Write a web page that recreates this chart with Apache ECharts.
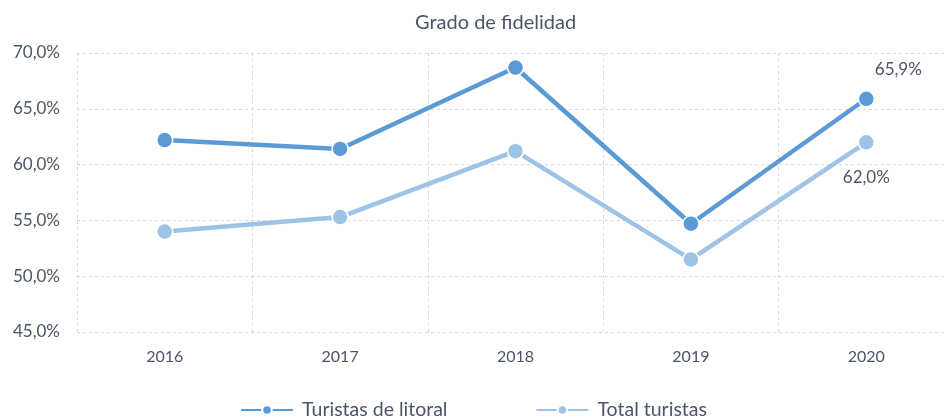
<!DOCTYPE html>
<html><head><meta charset="utf-8">
<script src="https://cdn.jsdelivr.net/npm/echarts@6/dist/echarts.min.js"></script>
<style>html,body{margin:0;padding:0;background:#fff}#c{width:947px;height:420px}</style>
</head><body><div id="c"></div>
<script>
var categories = ['2016','2017','2018','2019','2020'];
var litoral = [62.2, 61.4, 68.7, 54.7, 65.9];
var total = [54.0, 55.3, 61.2, 51.5, 62.0];
var seriesNames = ['Turistas de litoral', 'Total turistas'];
var yTicks = [45, 50, 55, 60, 65, 70];
var titleText = 'Grado de fidelidad';

var txt = '#4a5568';
var font = 'Lato';
function fmt(v){ return v.toFixed(1).replace('.', ',') + '%'; }
var chart = echarts.init(document.getElementById('c'));
function lastLabel(pos, dist, off){
  return {show:true, position:pos, distance:dist, offset:off, color:txt, fontFamily:font, fontSize:17,
    formatter:function(p){ return p.dataIndex === categories.length-1 ? fmt(p.value) : ''; }};
}
chart.setOption({
  animation:false,
  title:{text:titleText, left:410, top:8, textStyle:{color:txt, fontFamily:font, fontSize:20, fontWeight:'normal'}},
  grid:{left:77, top:53, width:877, height:279, outerBoundsMode:'none', containLabel:false},
  legend:{bottom:-5, left:'center', itemGap:88, itemWidth:52, itemHeight:12, textStyle:{color:txt, fontFamily:font, fontSize:19.5, padding:[0,0,0,4]}},
  xAxis:{type:'category', data:categories, boundaryGap:true,
    axisLine:{show:false}, axisTick:{show:false},
    splitLine:{show:true, lineStyle:{color:'#d9d9d9', type:[3,3]}},
    axisLabel:{color:txt, fontFamily:font, fontSize:16, margin:17}},
  yAxis:{type:'value', min:yTicks[0], max:yTicks[yTicks.length-1], interval:5,
    axisLine:{show:false}, axisTick:{show:false},
    splitLine:{lineStyle:{color:'#d9d9d9', type:[3,3]}},
    axisLabel:{color:txt, fontFamily:font, fontSize:17, margin:17, formatter:function(v){return fmt(v);}}},
  series:[
    {name:seriesNames[0], type:'line', data:litoral, symbol:'circle', symbolSize:16,
      lineStyle:{width:4.5, color:'#5b9bd5'}, itemStyle:{color:'#5b9bd5', borderColor:'#fff', borderWidth:1.5},
      label:lastLabel('top', 12, [32, 0]), z:3},
    {name:seriesNames[1], type:'line', data:total, symbol:'circle', symbolSize:16,
      lineStyle:{width:4.5, color:'#9dc3e6'}, itemStyle:{color:'#9dc3e6', borderColor:'#fff', borderWidth:1.5},
      label:lastLabel('bottom', 18, [0, 0]), z:2}
  ]
});
</script></body></html>
